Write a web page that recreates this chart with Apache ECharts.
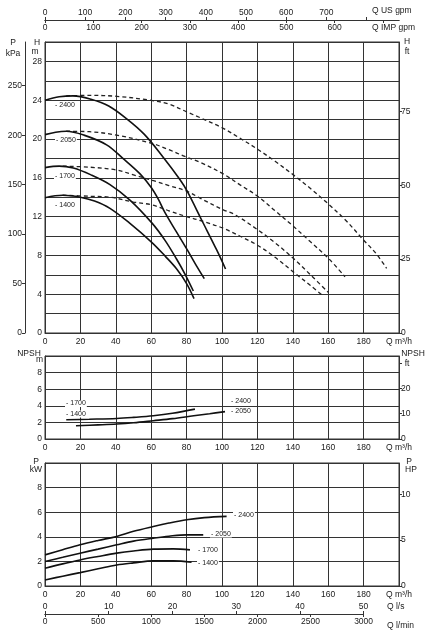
<!DOCTYPE html>
<html><head><meta charset="utf-8">
<script src="https://cdn.jsdelivr.net/npm/echarts@6/dist/echarts.min.js"></script>
<style>html,body{margin:0;padding:0;background:#fff}#c{width:429px;height:635px}</style>
</head><body><div id="c"></div>
<script>
// ---------------- DATA ----------------
const speeds = ['2400', '2050', '1700', '1400'];
const qTicks = [0, 20, 40, 60, 80, 100, 120, 140, 160, 180, 200]; // m3/h

// Head curves H [m] vs Q [m3/h] (solid)
const head2400 = [[0,24.0],[8,24.35],[16,24.45],[26,24.1],[36,23.4],[46,22.1],[56,20.5],[66,18.3],[76.3,15.8],[80.4,14.6],[88.5,11.65],[97,8.56],[102,6.6]];
const head2050 = [[0,20.45],[6,20.7],[12,20.8],[22,20.4],[34.8,19.4],[44,18.0],[53.7,16.4],[60,15.0],[64,13.8],[67.8,12.4],[74,10.5],[80.4,8.56],[85,7.1],[90,5.6]];
const head1700 = [[0,17.05],[8,17.2],[16,17.0],[26,16.3],[36.7,15.3],[48,13.7],[60.6,11.3],[68,9.5],[74.4,7.6],[79,6.1],[83.8,4.33]];
const head1400 = [[0,13.95],[10,14.2],[20,14.0],[28,13.6],[36.7,12.85],[48,11.3],[60.6,9.3],[68,7.9],[74.4,6.6],[80,5.1],[84.2,3.55]];

// Head curves (dashed)
const headB2400 = [[12,24.45],[25,24.5],[40.5,24.4],[59.3,24.0],[70,23.6],[80,22.8],[87.6,22.2],[100.7,21.1],[110,20.1],[120.5,18.9],[130,17.7],[140.3,16.3],[150,14.9],[160.1,13.3],[170,11.6],[179.9,9.6],[187,8.2],[193,6.67]];
const headB2050 = [[12,20.8],[25,20.75],[40.5,20.4],[60.3,19.55],[70,18.9],[79,18.2],[87.6,17.6],[100.7,16.4],[110,15.3],[120.5,14.05],[130,12.6],[140.3,11.0],[150,9.4],[160.1,7.7],[169.5,5.8]];
const headB1700 = [[10,17.2],[25,17.1],[40.5,16.8],[50,16.3],[61.3,15.7],[70,15.2],[80.4,14.6],[87.6,13.9],[100.7,12.7],[107.3,12.2],[120.5,10.6],[130,9.3],[140.3,7.7],[150,6.0],[160,4.2]];
const headB1400 = [[10,14.2],[25,14.1],[36.7,14.0],[50,13.5],[60.6,13.2],[70,12.6],[80,12.0],[89.4,11.5],[100.7,10.8],[110,10.0],[120.5,9.0],[130,7.8],[140.3,6.3],[150,4.9],[157,3.85]];

// NPSH [m]
const npshLow = [[12,2.32],[25,2.38],[40.5,2.47],[50,2.6],[61.2,2.8],[72,3.1],[84.7,3.6]];        // 1700 / 1400
const npshHigh = [[17.5,1.6],[30,1.7],[40.5,1.8],[50,1.95],[61.2,2.2],[72,2.45],[84,2.8],[93,3.05],[101.7,3.3]]; // 2400 / 2050

// Power [kW]
const power2400 = [[0,2.53],[10,2.95],[19.8,3.35],[30,3.7],[40.5,4.03],[50,4.45],[61.2,4.84],[70,5.12],[80,5.39],[90,5.56],[102.6,5.66]];
const power2050 = [[0,1.99],[10,2.33],[19.8,2.67],[30,3.0],[40.5,3.35],[50,3.65],[61.2,3.89],[70,4.05],[80,4.16],[89.4,4.16]];
const power1700 = [[0,1.44],[10,1.8],[19.8,2.12],[30,2.4],[40.5,2.67],[50,2.85],[61.2,3.0],[72.5,3.02],[81.9,2.94]];
const power1400 = [[0,0.49],[10,0.8],[19.8,1.09],[30,1.4],[40.5,1.71],[50,1.88],[61.2,2.04],[72.5,2.04],[82.8,1.93]];

// Axis ranges and unit conversions
const Q_MAX = 200, H_MAX = 30, NPSH_MAX = 10, P_MAX = 10;
const M_TO_KPA = 9.80665, M_TO_FT = 1 / 0.3048;
const M3H_TO_USGPM = 4.402868, M3H_TO_IMPGPM = 3.666154;
const LS_MAX = 50, LS_TO_M3H = 3.6, LS_TO_LMIN = 60;
const KW_TO_HP = 1 / 0.7457;

// ---------------- LAYOUT / STYLE ----------------
const FONT = 'Liberation Sans, Arial, sans-serif';
const INK = '#1a1a1a';
const GRID_LINE = '#333';
const L = 45, W = 354;
const G = [
  { left: L, top: 42, width: W, height: 291 },
  { left: L, top: 356, width: W, height: 83 },
  { left: L, top: 463, width: W, height: 123 },
  { left: L, top: 600, width: W * (LS_MAX * LS_TO_M3H) / Q_MAX, height: 14 }
];
const grids = G.map((g, i) => Object.assign({
  show: i < 3, borderColor: GRID_LINE, borderWidth: 1, backgroundColor: '#fff',
  containLabel: false, outerBoundsMode: 'none'
}, g));

const lbl = (extra) => Object.assign({ color: INK, fontSize: 8.5, fontFamily: FONT }, extra || {});
const noLine = { show: false };

function qAxis(gi) {
  return {
    type: 'value', gridIndex: gi, position: 'bottom', min: 0, max: Q_MAX, interval: 20,
    axisLine: { show: true, onZero: false, lineStyle: { color: GRID_LINE } }, axisTick: { show: false },
    axisLabel: lbl({ margin: 4, formatter: v => v === Q_MAX ? 'Q m³/h' : String(v) }),
    splitLine: { show: true, lineStyle: { color: GRID_LINE, width: 1 } }
  };
}
function secX(gi, max, interval, position, inside, hideFrom, offset) {
  return {
    type: 'value', gridIndex: gi, position, offset: offset || 0, min: 0, max, interval,
    axisLine: { show: true, onZero: false, lineStyle: { color: GRID_LINE } },
    axisTick: { show: true, inside, length: 3, lineStyle: { color: GRID_LINE } },
    axisLabel: lbl({ inside, margin: 3, showMaxLabel: false,
      formatter: v => (hideFrom !== null && v >= hideFrom) ? '' : String(v) }),
    splitLine: noLine
  };
}
function mainY(gi, max, interval, labelStep) {
  return {
    type: 'value', gridIndex: gi, position: 'left', min: 0, max, interval,
    axisLine: { show: true, onZero: false, lineStyle: { color: GRID_LINE } }, axisTick: { show: false },
    axisLabel: lbl({ margin: 3, showMaxLabel: false,
      formatter: v => (Math.round(v) % labelStep === 0 && v < max) ? String(v) : '' }),
    splitLine: { show: true, lineStyle: { color: GRID_LINE, width: 1 } }
  };
}
function secY(gi, max, interval, position, offset, hideFrom) {
  return {
    type: 'value', gridIndex: gi, position, offset: offset || 0, min: 0, max, interval,
    axisLine: { show: true, onZero: false, lineStyle: { color: GRID_LINE } },
    axisTick: { show: true, length: 3, lineStyle: { color: GRID_LINE } },
    axisLabel: lbl({ margin: position === 'left' ? 3 : 2, showMaxLabel: false,
      formatter: v => (hideFrom != null && v >= hideFrom) ? '' : String(v) }),
    splitLine: noLine
  };
}

const xAxis = [
  qAxis(0),                                                             // 0
  secX(0, Q_MAX * M3H_TO_USGPM, 100, 'top', false, 800, 22),            // 1 US gpm
  secX(0, Q_MAX * M3H_TO_IMPGPM, 100, 'top', true, 700, 22),            // 2 IMP gpm
  qAxis(1),                                                             // 3
  qAxis(2),                                                             // 4
  secX(3, LS_MAX, 10, 'bottom', true, null, 0),                         // 5 l/s
  secX(3, LS_MAX * LS_TO_LMIN, 500, 'bottom', false, null, 0)           // 6 l/min
];
xAxis[5].axisLabel.showMaxLabel = true;
xAxis[6].axisLabel.showMaxLabel = true;

const yAxis = [
  mainY(0, H_MAX, 2, 4),                                   // 0 H m
  secY(0, H_MAX * M_TO_KPA, 50, 'left', 20),               // 1 kPa
  secY(0, H_MAX * M_TO_FT, 25, 'right'),                   // 2 ft
  mainY(1, NPSH_MAX, 2, 2),                                // 3 NPSH m
  secY(1, NPSH_MAX * M_TO_FT, 10, 'right', 0, 30),         // 4 NPSH ft
  mainY(2, P_MAX, 2, 2),                                   // 5 kW
  secY(2, P_MAX * KW_TO_HP, 5, 'right'),                   // 6 HP
  { type: 'value', gridIndex: 3, show: false, min: 0, max: 1 }  // 7
];

function curve(data, xi, yi, dashed) {
  return {
    type: 'line', xAxisIndex: xi, yAxisIndex: yi, data, smooth: 0.35,
    showSymbol: false, symbol: 'none', silent: true, z: dashed ? 3 : 4,
    lineStyle: dashed ? { color: '#222', width: 1.3, type: [4, 3] } : { color: '#111', width: 1.6 }
  };
}
const series = [
  curve(head2400, 0, 0), curve(head2050, 0, 0), curve(head1700, 0, 0), curve(head1400, 0, 0),
  curve(headB2400, 0, 0, true), curve(headB2050, 0, 0, true), curve(headB1700, 0, 0, true), curve(headB1400, 0, 0, true),
  curve(npshLow, 3, 3), curve(npshHigh, 3, 3),
  curve(power2400, 4, 5), curve(power2050, 4, 5), curve(power1700, 4, 5), curve(power1400, 4, 5)
];

function txt(text, x, y, align, size, bg) {
  const st = { text, fill: INK, fontSize: size || 8.5, fontFamily: FONT, align: align || 'left', verticalAlign: 'middle' };
  if (bg) { st.backgroundColor = '#fff'; st.padding = [0, 1]; }
  return { type: 'text', x, y, z: 100, silent: true, style: st };
}
const rpm = (i, x, y) => txt('- ' + speeds[i], x, y, 'left', 7, true);

const graphic = [
  txt('P', 13, 43, 'center'), txt('kPa', 13, 53.5, 'center'),
  txt('H', 37, 43, 'center'), txt('m', 35, 52, 'center'),
  txt('H', 407, 42, 'center'), txt('ft', 407, 51.5, 'center'),
  txt('Q US gpm', 372, 11), txt('Q IMP gpm', 372, 28),
  txt('NPSH', 29, 353.5, 'center'), txt('m', 39.5, 360, 'center'),
  txt('NPSH', 413, 353.5, 'center'), txt('ft', 407, 363.5, 'center'),
  txt('P', 36, 461.5, 'center'), txt('kW', 36, 469.5, 'center'),
  txt('P', 409, 461.5, 'center'), txt('HP', 411, 469.5, 'center'),
  txt('Q l/s', 387, 606.5), txt('Q l/min', 387, 626),
  rpm(0, 54, 105.5), rpm(1, 55, 140), rpm(2, 54, 176.5), rpm(3, 54, 205),
  rpm(2, 65, 403.5), rpm(3, 65, 414), rpm(0, 230, 401.5), rpm(1, 230, 411),
  rpm(0, 233, 515), rpm(1, 210, 534), rpm(2, 197, 550), rpm(3, 197, 563.5)
];

const chart = echarts.init(document.getElementById('c'), null, { renderer: 'canvas', width: 429, height: 635 });
chart.setOption({
  animation: false,
  backgroundColor: '#fff',
  grid: grids, xAxis, yAxis, series, graphic
});
</script></body></html>
